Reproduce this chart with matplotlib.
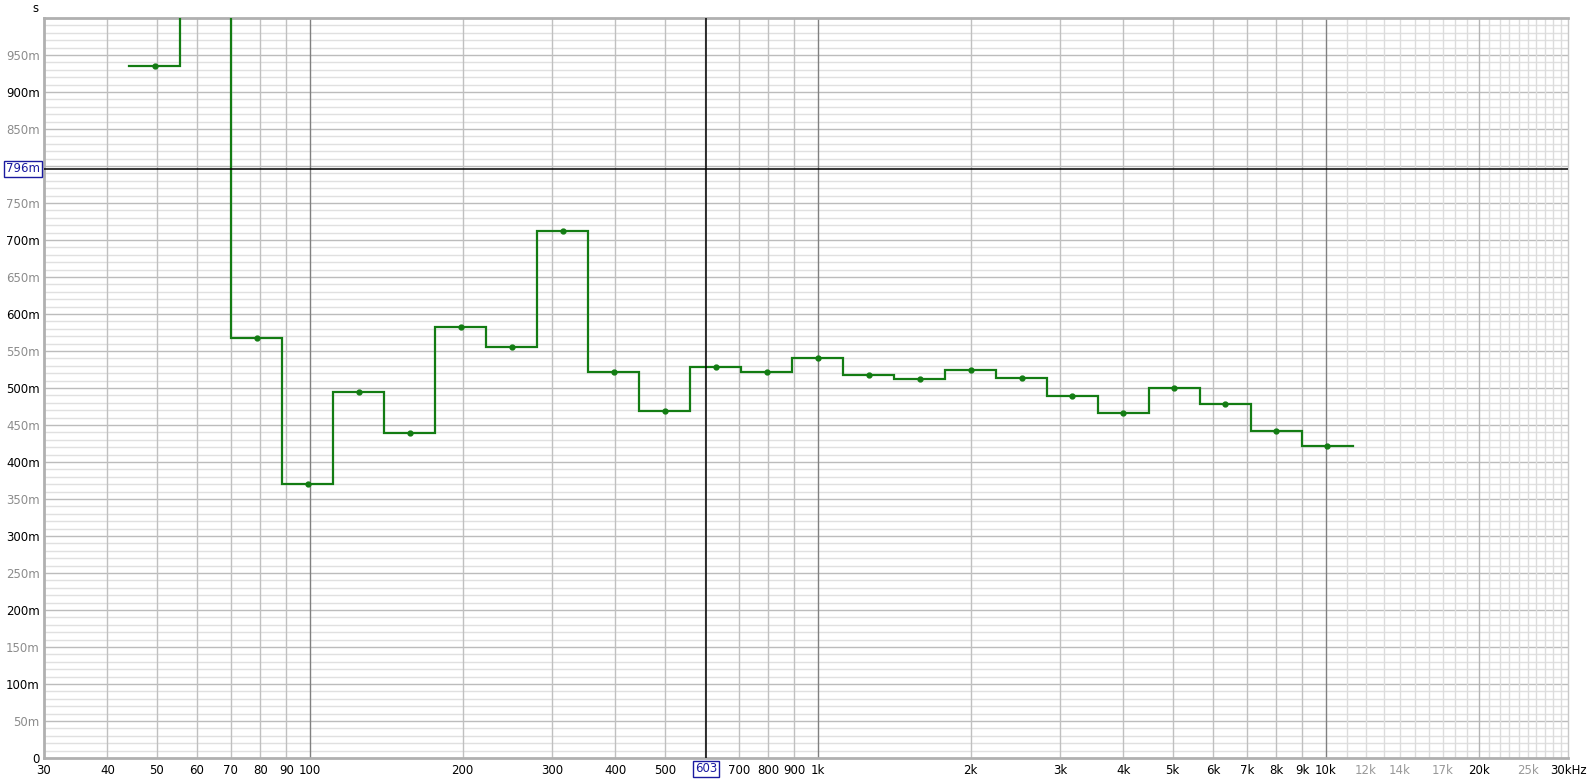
import numpy as np
import matplotlib
matplotlib.use("Agg")
import matplotlib.pyplot as plt

# Third-octave band centres (Hz) and RT values (s)
bands = [50, 63, 80, 100, 125, 160, 200, 250, 315, 400, 500, 630, 800,
         1000, 1250, 1600, 2000, 2500, 3150, 4000, 5000, 6300, 8000, 10000]
rt = [0.935, 1.10, 0.568, 0.370, 0.495, 0.439, 0.583, 0.555, 0.712, 0.521,
      0.469, 0.529, 0.522, 0.541, 0.518, 0.512, 0.525, 0.514, 0.489, 0.466,
      0.500, 0.479, 0.442, 0.422]

x_tick_vals = [30, 40, 50, 60, 70, 80, 90, 100, 200, 300, 400, 500, 700, 800, 900,
               1000, 2000, 3000, 4000, 5000, 6000, 7000, 8000, 9000, 10000,
               12000, 14000, 17000, 20000, 25000, 30000]
x_tick_labels = ["30", "40", "50", "60", "70", "80", "90", "100", "200", "300", "400",
                 "500", "700", "800", "900", "1k", "2k", "3k", "4k", "5k", "6k", "7k",
                 "8k", "9k", "10k", "12k", "14k", "17k", "20k", "25k", "30kHz"]
x_gray_labels = ["12k", "14k", "17k", "25k"]

y_tick_vals = [0.0, 0.05, 0.10, 0.15, 0.20, 0.25, 0.30, 0.35, 0.40, 0.45, 0.50,
               0.55, 0.60, 0.65, 0.70, 0.75, 0.85, 0.90, 0.95]
y_tick_labels = ["0", "50m", "100m", "150m", "200m", "250m", "300m", "350m", "400m",
                 "450m", "500m", "550m", "600m", "650m", "700m", "750m", "850m",
                 "900m", "950m"]

cursor_f = 603
cursor_v = 0.796

W, H = 1590, 783
fig = plt.figure(figsize=(W / 100, H / 100), dpi=100)
L, R, T, B = 44, 1568, 18, 758
ax = fig.add_axes([L / W, 1 - B / H, (R - L) / W, (B - T) / H])
ax.set_xscale("log")
ax.set_xlim(30, 30000)
ax.set_ylim(0, 1.0)

# horizontal grid
for i in range(1, 100):
    v = i / 100
    if i % 5 == 0:
        c = "#bcbcbc"
    else:
        c = "#e0e0e0"
    ax.axhline(v, color=c, lw=1.0, zorder=1)

# vertical grid
for dec in [10, 100, 1000]:
    for k in range(2, 10):
        f = dec * k
        if 30 < f < 10000:
            ax.axvline(f, color="#c0c0c0", lw=1.0, zorder=1)
for f in [100, 1000, 10000]:
    ax.axvline(f, color="#808080", lw=1.0, zorder=2)
for f in range(11000, 30000, 1000):
    c = "#b4b4b4" if f == 20000 else "#dcdcdc"
    ax.axvline(f, color=c, lw=1.0, zorder=1)

# step data (exact base-2 third-octave centres for band edges)
exact = [1000 * 2 ** (round(3 * np.log2(f / 1000)) / 3) for f in bands]
xs, ys = [], []
for fc, v in zip(exact, rt):
    xs += [fc / 2 ** (1 / 6), fc * 2 ** (1 / 6)]
    ys += [v, v]
green = "#137c13"
ax.plot(xs, ys, color=green, lw=1.6, zorder=5, solid_joinstyle="miter")
ax.plot(exact, rt, "o", color=green, ms=3.5, zorder=6)

# cursor lines
ax.axvline(cursor_f, color="black", lw=1.1, zorder=7)
ax.axhline(cursor_v, color="black", lw=1.1, zorder=7)

# ticks
ax.set_xticks(x_tick_vals)
ax.set_xticklabels(x_tick_labels)
ax.xaxis.set_minor_locator(matplotlib.ticker.NullLocator())
ax.set_yticks(y_tick_vals)
ax.set_yticklabels(y_tick_labels)
ax.tick_params(axis="both", length=0, labelsize=8.5)
ax.tick_params(axis="x", pad=4)
ax.tick_params(axis="y", pad=3)
for lab in ax.get_xticklabels():
    lab.set_color("#999999" if lab.get_text() in x_gray_labels else "black")
for lab, v in zip(ax.get_yticklabels(), y_tick_vals):
    lab.set_color("black" if round(v * 100) % 10 == 0 else "#8c8c8c")

for s in ["left", "bottom", "top"]:
    ax.spines[s].set_color("#b0b0b0")
    ax.spines[s].set_linewidth(2.0)
ax.spines["right"].set_color("#c8c8c8")
ax.spines["right"].set_linewidth(1.0)

# cursor boxed labels
box = dict(boxstyle="square,pad=0.15", fc="white", ec="#1a1aa0", lw=1.0)
ax.text(cursor_f, -0.006, "603", transform=ax.get_xaxis_transform(), ha="center",
        va="top", fontsize=8.5, color="#1a1aa0", bbox=box, zorder=10, clip_on=False)
ax.text(-0.0025, cursor_v, "796m", transform=ax.get_yaxis_transform(), ha="right",
        va="center", fontsize=8.5, color="#1a1aa0", bbox=box, zorder=10, clip_on=False)

fig.text(35 / W, 1 - 8 / H, "s", ha="center", va="center", fontsize=8.5)

fig.savefig("out.png", dpi=100, facecolor="white")
